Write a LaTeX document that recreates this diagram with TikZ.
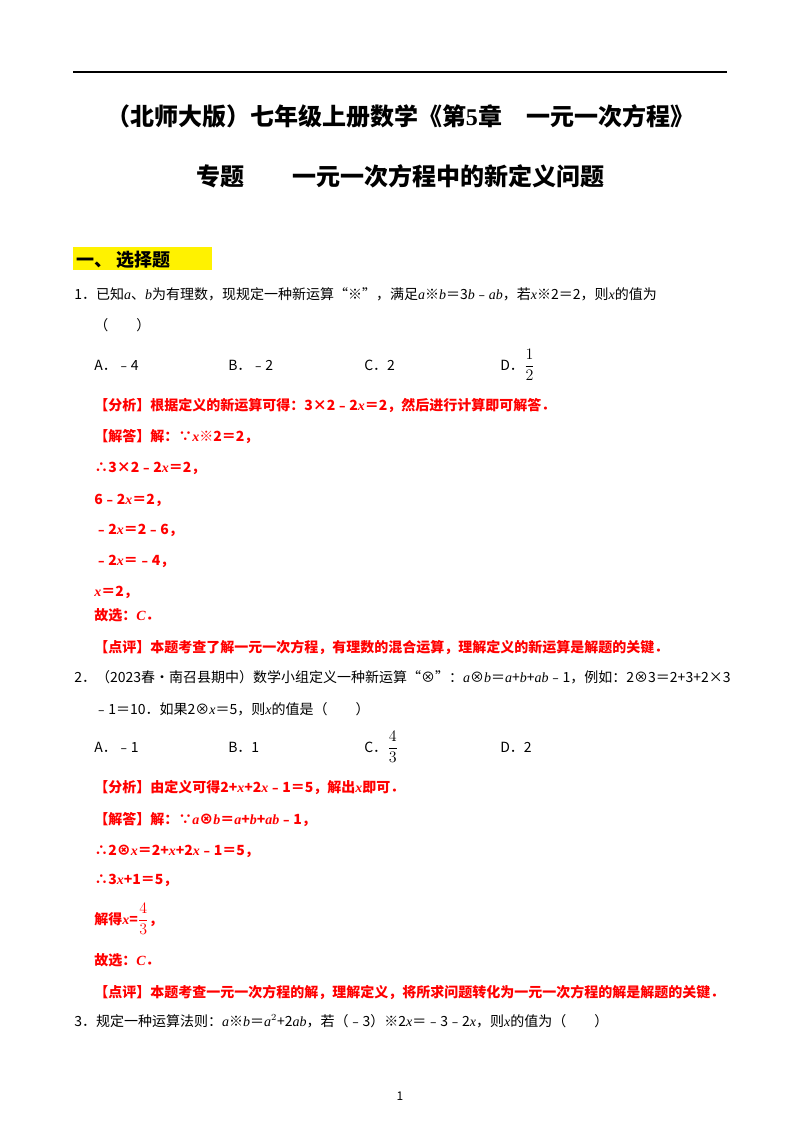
\documentclass[tikz,border=0pt]{standalone}
\usepackage{fontspec}
\setmainfont{Noto Sans CJK SC}
\newfontfamily\lat{Liberation Serif}
\newcommand\iv[1]{{\lat\itshape #1}}
\newcommand\rmt[1]{{\lat #1}}
\newcommand\fr[2]{{\large$\displaystyle\frac{#1}{#2}$}}
\begin{document}
\begin{tikzpicture}[x=0.75pt,y=-0.75pt,
  t/.style={anchor=base west,inner sep=0,font=\fontsize{10.5}{12}\selectfont},
  r/.style={t,text=red,font=\fontsize{10.5}{12}\selectfont\bfseries},
  h/.style={anchor=base,inner sep=0,font=\fontsize{18}{22}\selectfont\bfseries}]
\useasboundingbox (0,0) rectangle (800,1132);
\fill[white] (0,0) rectangle (800,1132);
\draw[line width=0.9pt] (73,72) -- (727,72);
\node[h] (t1) at (400,125) {（北师大版）七年级上册数学《第\rmt{\bfseries 5}章　一元一次方程》};
\node[h] (t2) at (400,185) {专题　　一元一次方程中的新定义问题};
\fill[yellow] (73,247) rectangle (212,270);
\node[t,font=\fontsize{13.5}{16}\selectfont\bfseries] (s1) at (76,266) {一、 选择题};
\node[t] (q1) at (74,299) {1．已知\iv{a}、\iv{b}为有理数，现规定一种新运算“※”，满足\iv{a}※\iv{b}＝3\iv{b}﹣\iv{ab}，若\iv{x}※2＝2，则\iv{x}的值为};
\node[t] (q1b) at (94,330) {（　　）};
\node[t] (a1) at (94,370) {A．﹣4};
\node[t] (b1) at (228,370) {B．﹣2};
\node[t] (c1) at (364,370) {C．2};
\node[t] (d1) at (500,370) {D．\fr{1}{2}};
\node[r] (f1) at (94,410) {【分析】根据定义的新运算可得：3×2﹣2\iv{x}＝2，然后进行计算即可解答．};
\node[r] (j1) at (94,441) {【解答】解：∵\iv{x}※2＝2，};
\node[r] (j2) at (94,472) {∴3×2﹣2\iv{x}＝2，};
\node[r] (j3) at (94,504) {6﹣2\iv{x}＝2，};
\node[r] (j4) at (94,534) {﹣2\iv{x}＝2﹣6，};
\node[r] (j5) at (94,565) {﹣2\iv{x}＝﹣4，};
\node[r] (j6) at (94,596) {\iv{x}＝2，};
\node[r] (j7) at (94,620) {故选：\iv{C}．};
\node[r] (p1) at (94,652) {【点评】本题考查了解一元一次方程，有理数的混合运算，理解定义的新运算是解题的关键．};
\node[t] (q2) at (74,682) {2．（2023春•南召县期中）数学小组定义一种新运算“⊗”：\iv{a}⊗\iv{b}＝\iv{a}+\iv{b}+\iv{ab}﹣1，例如：2⊗3＝2+3+2×3};
\node[t] (q2b) at (94,714) {﹣1＝10．如果2⊗\iv{x}＝5，则\iv{x}的值是（　　）};
\node[t] (a2) at (94,752) {A．﹣1};
\node[t] (b2) at (228,752) {B．1};
\node[t] (c2) at (364,752) {C．\fr{4}{3}};
\node[t] (d2) at (500,752) {D．2};
\node[r] (f2) at (94,792) {【分析】由定义可得2+\iv{x}+2\iv{x}﹣1＝5，解出\iv{x}即可．};
\node[r] (k1) at (94,824) {【解答】解：∵\iv{a}⊗\iv{b}＝\iv{a}+\iv{b}+\iv{ab}﹣1，};
\node[r] (k2) at (94,855) {∴2⊗\iv{x}＝2+\iv{x}+2\iv{x}﹣1＝5，};
\node[r] (k3) at (94,884) {∴3\iv{x}+1＝5，};
\node[r] (k4) at (94,924) {解得\iv{x}=\fr{4}{3}，};
\node[r] (k5) at (94,965) {故选：\iv{C}．};
\node[r] (p2) at (94,997) {【点评】本题考查一元一次方程的解，理解定义，将所求问题转化为一元一次方程的解是解题的关键．};
\node[t] (q3) at (74,1026) {3．规定一种运算法则：\iv{a}※\iv{b}＝\iv{a}$^2$+2\iv{ab}，若（﹣3）※2\iv{x}＝﹣3﹣2\iv{x}，则\iv{x}的值为（　　）};
\node[anchor=base,inner sep=0,font=\fontsize{9}{10}\selectfont] (pg) at (400,1100) {1};
\end{tikzpicture}
\end{document}
